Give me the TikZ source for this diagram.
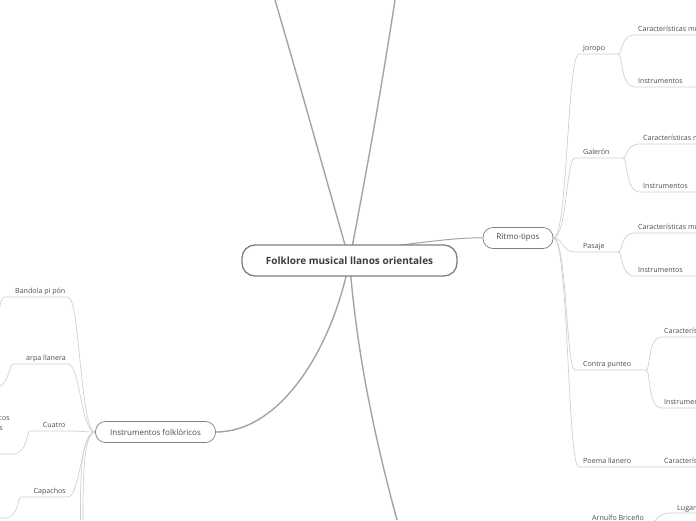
\documentclass[tikz,border=0pt]{standalone}
\usepackage{fontspec}
\setmainfont{Open Sans}
\usetikzlibrary{backgrounds}
\definecolor{bigline}{HTML}{A3A3A3}
\definecolor{thinline}{HTML}{D0D0D0}
\definecolor{txt}{HTML}{4A4A4A}
\definecolor{ctxt}{HTML}{3C3C3C}
\definecolor{bord}{HTML}{7F7F7F}
\begin{document}
\begin{tikzpicture}[x=1pt,y=-1pt,
  central/.style={draw=bord, line width=1.3pt, rounded corners=13pt, fill=white,
    minimum width=215pt, minimum height=31pt, inner sep=0pt,
    font=\bfseries\fontsize{10}{12}\selectfont, text=ctxt},
  topic/.style={draw=bord, line width=0.7pt, rounded corners=10pt, fill=white,
    minimum height=21pt, inner sep=0pt, font=\fontsize{8}{9.5}\selectfont, text=txt},
  lbl/.style={anchor=base west, inner sep=0pt, font=\fontsize{7.1}{8.5}\selectfont, text=txt},
  lble/.style={anchor=base east, inner sep=0pt, font=\fontsize{7.1}{8.5}\selectfont, text=txt},
  big/.style={draw=bigline, line width=1.4pt},
  thin/.style={draw=thinline, line width=0.7pt}]
\useasboundingbox (0,0) rectangle (696,520);
\clip (0,0) rectangle (696,520);

% main nodes
\node[central] (c) at (349.5,260.5) {Folklore musical llanos orientales};
\node[topic, minimum width=70pt] (r) at (518,238) {Ritmo-tipos};
\node[topic, minimum width=120pt] (i) at (155.5,432) {Instrumentos folklóricos};

% right labels
\node[lbl] (jor) at (583,50) {Joropo};
\node[lbl] (jc) at (638,31) {Características musicales};
\node[lbl] (ji) at (638,83) {Instrumentos};
\node[lbl] (gal) at (583,154) {Galerón};
\node[lbl] (gc) at (643,140) {Características musicales};
\node[lbl] (gi) at (643,188) {Instrumentos};
\node[lbl] (pas) at (583,248) {Pasaje};
\node[lbl] (pc) at (638,229) {Características musicales};
\node[lbl] (pi) at (638,272) {Instrumentos};
\node[lbl] (con) at (583,366) {Contra punteo};
\node[lbl] (cc) at (664,333) {Características musicales};
\node[lbl] (ci) at (664,404) {Instrumentos};
\node[lbl] (poe) at (583,463) {Poema llanero};
\node[lbl] (poc) at (664,463) {Características musicales};
\node[lbl] (arn) at (592,520) {Arnulfo Briceño};
\node[lbl] (lug) at (677,510) {Lugar};

% left labels
\node[lble] (ban) at (65.5,293) {Bandola pi pón};
\node[lble] (arp) at (66,360) {arpa llanera};
\node[lble] (cua) at (65.5,427) {Cuatro};
\node[lble] (cap) at (66,493) {Capachos};
\node[lble] (cos) at (10,420) {cos};
\node[lble] (ss) at (3,430) {s};

% free ends
\coordinate (tl) at (275,0);
\coordinate (tr) at (395,0);
\coordinate (br) at (397,520);
\coordinate (d1) at (80.5,520);
\coordinate (d2) at (83,520);

\begin{pgfonlayer}{background}
% central connectors
\draw[big] (c.center) .. controls (325,175) and (300,85) .. (tl);
\draw[big] (c.center) .. controls (366,175) and (382,85) .. (tr);
\draw[big] (c.center) .. controls (357,360) and (378,450) .. (br);
\draw[big] (c.center) .. controls (332,350) and (280,432) .. (i.east);
\draw[big, line width=1pt] (c.center) -- (360,249.5) .. controls (415,244) and (455,237) .. (r.west);

% Ritmo-tipos branches
\draw[thin] (r.east) .. controls (568,238) and (567,54) .. (579,54) -- (618,54);
\draw[thin] (r.east) .. controls (567,238) and (566,158) .. (575,158) -- (623,158);
\draw[thin] (r.east) .. controls (563,238) and (563,252) .. (574,252) -- (618,252);
\draw[thin] (r.east) .. controls (567,238) and (566,370) .. (575,370) -- (646,370);
\draw[thin] (r.east) .. controls (569,238) and (567,467) .. (579,467) -- (696,467);

% sub brackets
\draw[thin] (618,54) .. controls (623,54) and (620,35) .. (635,35) -- (696,35);
\draw[thin] (618,54) .. controls (623,54) and (620,87) .. (635,87) -- (696,87);
\draw[thin] (623,158) .. controls (628,158) and (625,144) .. (640,144) -- (696,144);
\draw[thin] (623,158) .. controls (628,158) and (625,192) .. (640,192) -- (696,192);
\draw[thin] (618,252) .. controls (623,252) and (620,233) .. (635,233) -- (696,233);
\draw[thin] (618,252) .. controls (623,252) and (620,276) .. (635,276) -- (696,276);
\draw[thin] (646,370) .. controls (651,370) and (647,337) .. (662,337) -- (696,337);
\draw[thin] (646,370) .. controls (651,370) and (647,408) .. (662,408) -- (696,408);
\draw[thin] (652,526) .. controls (658,514) and (664,513) .. (673,513) -- (696,513);

% Instrumentos branches
\draw[thin] (i.west) .. controls (80,432) and (80,297) .. (68,297) -- (5,297) .. controls (1,297) and (0,305) .. (-1,312);
\draw[thin] (i.west) .. controls (81,432) and (80,364) .. (68,364) -- (13,364) .. controls (9,366) and (9,382) .. (-1,387);
\draw[thin] (i.west) .. controls (86,432) and (80,431) .. (70,431) -- (30,431) .. controls (26,433) and (28,453) .. (13,454) -- (-1,454);
\draw[thin] (i.west) .. controls (81,432) and (80,497) .. (68,497) -- (21,497) .. controls (17,499) and (19,516) .. (6,518) -- (-1,518);
\draw[thin] (i.west) .. controls (82,434) and (80,470) .. (d1);
\draw[thin] (i.west) .. controls (84,434) and (83,470) .. (d2);
\end{pgfonlayer}
\end{tikzpicture}
\end{document}
